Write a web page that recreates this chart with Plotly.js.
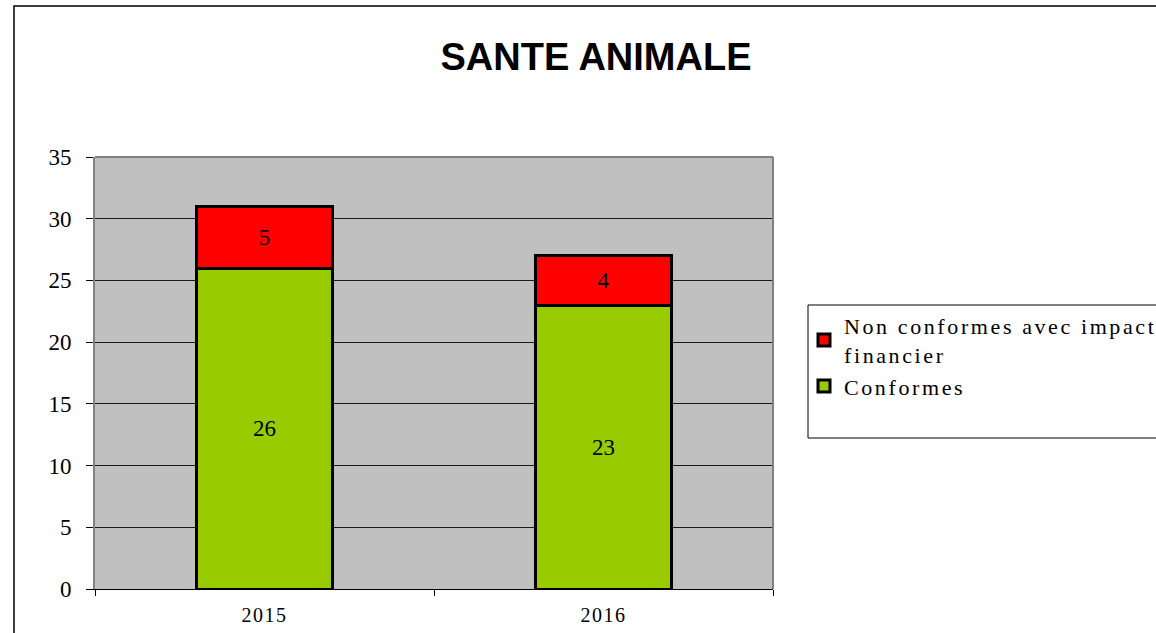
<!DOCTYPE html>
<html>
<head>
<meta charset="utf-8">
<script src="https://cdn.plot.ly/plotly-3.0.1.min.js"></script>
<style>
html,body{margin:0;padding:0;background:#fff;}
#chart{width:1156px;height:633px;}
.legendtext{letter-spacing:2.6px;}
.xtick text{letter-spacing:1.5px;}
</style>
</head>
<body>
<div id="chart"></div>
<script>
const categories = ['2015', '2016'];
const conformes = [26, 23];
const nonConformes = [5, 4];
const seriesNames = ['Conformes', 'Non conformes avec impact<br>financier'];
const yTicks = [0, 5, 10, 15, 20, 25, 30, 35];

const L = 95, R = 773, T = 157, B = 589;
const W = 1156, H = 633;
const px = x => (x - L) / (R - L);
const py = y => (B - y) / (B - T);

const traces = [
  {
    type: 'bar', name: seriesNames[0], x: categories, y: conformes,
    text: conformes.map(String), textposition: 'inside', insidetextanchor: 'middle',
    textfont: {family: 'Liberation Serif', size: 23, color: '#000'},
    marker: {color: '#99CC00', line: {color: '#000', width: 3}},
    hoverinfo: 'none'
  },
  {
    type: 'bar', name: seriesNames[1], x: categories, y: nonConformes,
    text: nonConformes.map(String), textposition: 'inside', insidetextanchor: 'middle',
    textfont: {family: 'Liberation Serif', size: 23, color: '#000'},
    marker: {color: '#FF0000', line: {color: '#000', width: 3}},
    hoverinfo: 'none'
  }
];

const layout = {
  width: W, height: H,
  margin: {l: L, r: W - R, t: T, b: H - B, pad: 0, autoexpand: false},
  paper_bgcolor: '#ffffff',
  plot_bgcolor: '#C0C0C0',
  barmode: 'stack',
  bargap: 0.6,
  showlegend: true,
  title: {
    text: '<b>SANTE ANIMALE</b>',
    font: {family: 'Liberation Sans, Arial', size: 38, color: '#000'},
    x: 596 / W, xref: 'container', xanchor: 'center',
    y: 1 - 57 / H, yref: 'container', yanchor: 'middle'
  },
  xaxis: {
    type: 'category',
    tickson: 'boundaries',
    ticks: 'outside', ticklen: 6, tickcolor: '#000', tickwidth: 1,
    showgrid: false, zeroline: false,
    showline: true, linecolor: '#000', linewidth: 1,
    tickfont: {family: 'Liberation Serif', size: 20, color: '#000'},
    ticklabelstandoff: 8,
    automargin: false
  },
  yaxis: {
    range: [0, 35], tickvals: yTicks,
    ticks: 'outside', ticklen: 7, tickcolor: '#000', tickwidth: 1,
    showgrid: true, gridcolor: '#1a1a1a', gridwidth: 1,
    zeroline: false,
    showline: true, linecolor: '#808080', linewidth: 2,
    tickfont: {family: 'Liberation Serif', size: 23, color: '#000'},
    ticklabelstandoff: 10,
    automargin: false
  },
  legend: {
    x: px(804), xanchor: 'left', xref: 'paper',
    y: py(305), yanchor: 'top', yref: 'paper',
    bgcolor: 'rgba(0,0,0,0)', borderwidth: 0,
    font: {family: 'Liberation Serif', size: 22, color: '#000'},
    itemwidth: 30, tracegroupgap: 0
  },
  shapes: [
    {type: 'rect', xref: 'paper', yref: 'paper', x0: px(14), x1: px(1170), y0: py(6), y1: py(650),
     line: {color: '#000', width: 1.5}, fillcolor: 'rgba(0,0,0,0)', layer: 'below'},
    {type: 'rect', xref: 'paper', yref: 'paper', x0: px(808), x1: px(1170), y0: py(305), y1: py(438),
     line: {color: '#000', width: 1}, fillcolor: 'rgba(0,0,0,0)'},
    {type: 'line', xref: 'paper', yref: 'paper', x0: 0, x1: 1, y0: 1, y1: 1,
     line: {color: '#808080', width: 2}},
    {type: 'line', xref: 'paper', yref: 'paper', x0: 1, x1: 1, y0: 0, y1: 1,
     line: {color: '#808080', width: 2}}
  ]
};

Plotly.newPlot('chart', traces, layout, {staticPlot: true, displayModeBar: false});
</script>
</body>
</html>
